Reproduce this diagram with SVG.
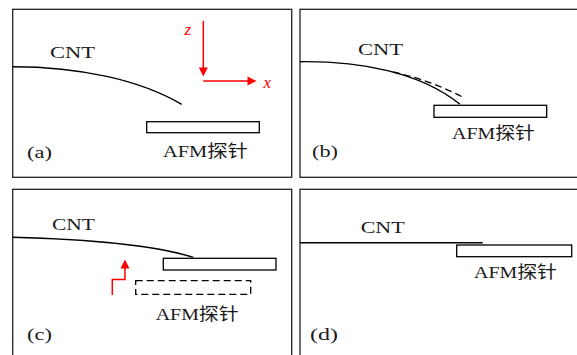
<svg xmlns="http://www.w3.org/2000/svg" width="577" height="355" viewBox="0 0 577 355">
<style>
.frame{fill:#fff;stroke:#222;stroke-width:1.3}
.cnt{fill:none;stroke:#000;stroke-width:1.4}
.probe{fill:#fff;stroke:#000;stroke-width:1.3}
.dash{fill:none;stroke:#000;stroke-width:1.3;stroke-dasharray:7,4}
.red{fill:none;stroke:#f00;stroke-width:1.5}
.redhead{fill:#f00;stroke:none}
text{font-family:"Liberation Serif","Noto Sans CJK SC",serif;font-size:17px;fill:#1a1a1a}
.lab{font-family:"Liberation Serif",serif;font-style:italic;fill:#f00}
</style>
<g id="panel-a">
<rect class="frame" x="12.7" y="9.3" width="279" height="168"/>
<path class="cnt" d="M12.7,66.7 C80,66.7 140,80 181.7,104.3"/>
<rect class="probe" x="146.7" y="121.7" width="112.6" height="11"/>
<text x="50" y="58" textLength="45" lengthAdjust="spacingAndGlyphs">CNT</text>
<text x="163" y="157" textLength="85" lengthAdjust="spacingAndGlyphs">AFM探针</text>
<text x="27" y="158" textLength="25" lengthAdjust="spacingAndGlyphs">(a)</text>
<g id="axes">
<path class="red" d="M203.3,21 V69"/>
<polygon class="redhead" points="203.3,76.5 198.8,67.5 207.8,67.5"/>
<path class="red" d="M203.3,81 H248"/>
<polygon class="redhead" points="256.5,81 247.5,76.5 247.5,85.5"/>
<text class="lab" x="184.5" y="35">z</text>
<text class="lab" x="263.5" y="88">x</text>
</g>
</g>
<g id="panel-b">
<rect class="frame" x="300" y="9.3" width="290" height="168"/>
<path class="cnt" d="M300,61.7 C360,61 420,72 460,104.3"/>
<path class="dash" d="M393,72 Q430,80 463.5,97.5"/>
<rect class="probe" x="434" y="105.3" width="112.7" height="12"/>
<text x="358" y="55" textLength="45" lengthAdjust="spacingAndGlyphs">CNT</text>
<text x="452" y="139" textLength="83" lengthAdjust="spacingAndGlyphs">AFM探针</text>
<text x="312" y="157" textLength="26" lengthAdjust="spacingAndGlyphs">(b)</text>
</g>
<g id="panel-c">
<rect class="frame" x="12.7" y="189.3" width="279" height="200"/>
<path class="cnt" d="M12.7,237.3 C80,239 150,244 193.3,257.3"/>
<rect class="probe" x="163.3" y="258.3" width="112.7" height="11.7"/>
<rect class="dash" x="135.7" y="280.7" width="115" height="13.6"/>
<path class="red" d="M112.3,295 V279.5 H125 V268"/>
<polygon class="redhead" points="125,259.5 120.5,268.5 129.5,268.5"/>
<text x="52" y="230" textLength="43" lengthAdjust="spacingAndGlyphs">CNT</text>
<text x="155.7" y="320" textLength="83" lengthAdjust="spacingAndGlyphs">AFM探针</text>
<text x="27" y="340" textLength="25" lengthAdjust="spacingAndGlyphs">(c)</text>
</g>
<g id="panel-d">
<rect class="frame" x="300" y="189.3" width="290" height="200"/>
<path class="cnt" d="M300,242.7 H482.7"/>
<rect class="probe" x="456.7" y="245" width="115" height="11.7"/>
<text x="360.7" y="233.3" textLength="44" lengthAdjust="spacingAndGlyphs">CNT</text>
<text x="474" y="278.3" textLength="83" lengthAdjust="spacingAndGlyphs">AFM探针</text>
<text x="310" y="340" textLength="28" lengthAdjust="spacingAndGlyphs">(d)</text>
</g>
</svg>
